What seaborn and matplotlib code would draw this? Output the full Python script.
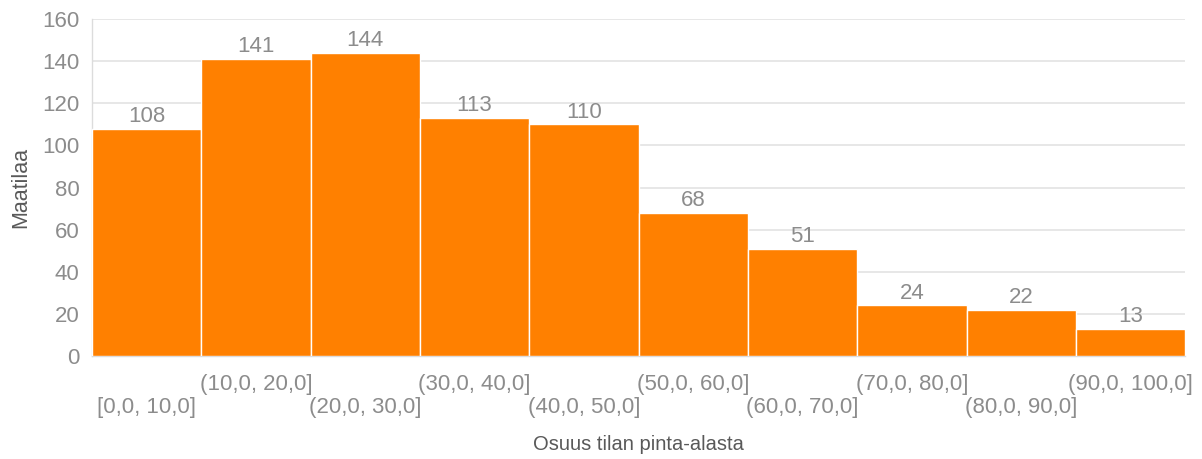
import matplotlib.pyplot as plt
import seaborn as sns
import pandas as pd

# Data
categories = ['[0,0, 10,0]', '(10,0, 20,0]', '(20,0, 30,0]', '(30,0, 40,0]',
              '(40,0, 50,0]', '(50,0, 60,0]', '(60,0, 70,0]', '(70,0, 80,0]',
              '(80,0, 90,0]', '(90,0, 100,0]']
counts = [108, 141, 144, 113, 110, 68, 51, 24, 22, 13]

df = pd.DataFrame({'Osuus': categories, 'Maatilaa': counts})

sns.set_style("whitegrid")
plt.rcParams['font.family'] = ['Liberation Sans', 'DejaVu Sans']

fig = plt.figure(figsize=(12.02, 4.59), dpi=100)
ax = fig.add_axes([0.0765, 0.2244, 0.9095, 0.7342])

sns.barplot(x='Osuus', y='Maatilaa', data=df, color='#FF8000', saturation=1,
            width=1.0, edgecolor='white', linewidth=1, ax=ax, zorder=3)

# value labels
for i, v in enumerate(counts):
    ax.text(i, v + 0.8, str(v), ha='center', va='bottom', color='#8c8c8c', fontsize=16)

ax.set_ylim(0, 160)
ax.set_yticks(range(0, 161, 20))
ax.set_xlim(-0.5, len(categories) - 0.5)

# staggered tick labels
labels = [c if i % 2 == 1 else '\n' + c for i, c in enumerate(categories)]
ax.set_xticks(range(len(categories)))
ax.set_xticklabels(labels, linespacing=1.15)
ax.tick_params(axis='x', length=0, pad=13, labelsize=16, labelcolor='#8c8c8c')
ax.tick_params(axis='y', length=0, pad=9, labelsize=16, labelcolor='#8c8c8c')

ax.grid(axis='x', visible=False)
ax.grid(axis='y', color='#e3e3e3', linewidth=1.2, zorder=0)
for s in ['top', 'right']:
    ax.spines[s].set_visible(False)
for s in ['left', 'bottom']:
    ax.spines[s].set_color('#dcdcdc')
    ax.spines[s].set_linewidth(1)

ax.set_xlabel('Osuus tilan pinta-alasta', fontsize=14.5, color='#595959', labelpad=12)
ax.set_ylabel('Maatilaa', fontsize=15.5, color='#595959', labelpad=8)

plt.savefig('out.png', dpi=100)
